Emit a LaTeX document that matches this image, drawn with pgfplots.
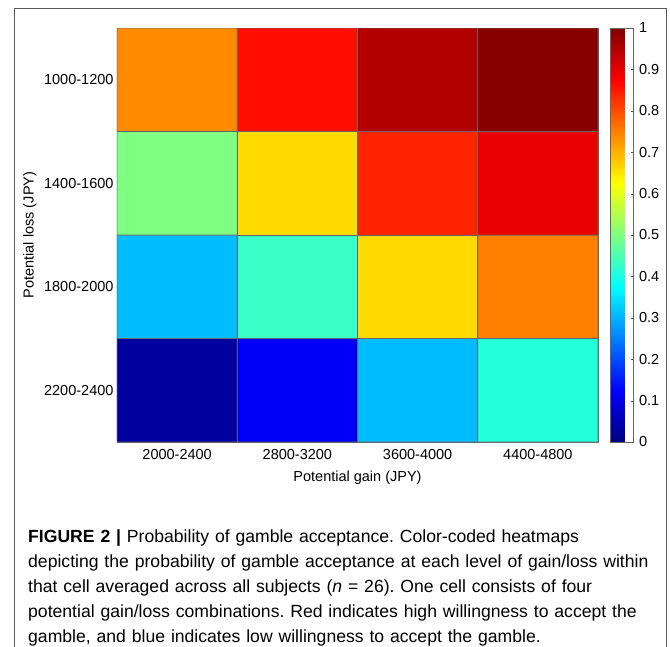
\documentclass[border=0pt]{standalone}
\usepackage{pgfplots}
\pgfplotsset{compat=1.18}
\usepackage{fontspec}
\setmainfont{Liberation Sans}
\begin{document}
\frenchspacing
\begin{tikzpicture}
\path[use as bounding box] (0pt,0pt) rectangle (670pt,-646pt);
\draw[black!65, line width=1pt] (14pt,-660pt) -- (14pt,-8pt) -- (666pt,-8pt) -- (666pt,-660pt);
\begin{axis}[
  at={(117pt,-442pt)}, anchor=south west,
  width=481pt, height=414pt, scale only axis,
  xmin=-0.5, xmax=3.5, ymin=-0.5, ymax=3.5,
  xtick={0,1,2,3}, xticklabels={2000-2400,2800-3200,3600-4000,4400-4800},
  ytick={0,1,2,3}, yticklabels={2200-2400,1800-2000,1400-1600,1000-1200},
  major tick length=0pt,
  axis line style={black!60},
  ticklabel style={font=\fontsize{14.5}{16}\selectfont},
  xticklabel style={yshift=-4pt},
  label style={font=\fontsize{14.5}{16}\selectfont},
  xlabel={Potential gain (JPY)}, ylabel={Potential loss (JPY)},
  xlabel style={at={(axis description cs:0.5,-0.087)}, anchor=center},
  ylabel style={at={(axis description cs:-0.181,0.5)}, anchor=center},
  colormap/jet,
  point meta min=0, point meta max=1,
  colorbar,
  colorbar style={
    at={(parent axis.north east)}, anchor=north west, xshift=4pt,
    width=23pt,
    ytick={0,0.1,0.2,0.3,0.4,0.5,0.6,0.7,0.8,0.9,1},
    yticklabel style={font=\fontsize{14.5}{16}\selectfont, /pgf/number format/assume math mode=true, /pgf/number format/fixed, xshift=2pt},
    ytick pos=right, yticklabel pos=right,
    major tick length=3pt,
    tick align=inside,
    tick style={black!70},
    axis line style={black!60},
  },
]
\addplot[matrix plot*, mesh/cols=4, point meta=explicit, shader=faceted, faceted color=black!60, line width=0.6pt] table[meta=c] {
x y c
0 0 0.03
1 0 0.12
2 0 0.31
3 0 0.41
0 1 0.31
1 1 0.43
2 1 0.66
3 1 0.75
0 2 0.50
1 2 0.66
2 2 0.84
3 2 0.895
0 3 0.74
1 3 0.86
2 3 0.95
3 3 0.99
};
\end{axis}
\node[anchor=north west, text width=645pt, align=left, inner sep=0pt, font=\fontsize{17.6}{25}\selectfont] at (28pt,-530pt) {\textbf{FIGURE 2 |} Probability of gamble acceptance. Color-coded heatmaps\\
depicting the probability of gamble acceptance at each level of gain/loss within\\
that cell averaged across all subjects (\textit{n} = 26). One cell consists of four\\
potential gain/loss combinations. Red indicates high willingness to accept the\\
gamble, and blue indicates low willingness to accept the gamble.};
\end{tikzpicture}
\end{document}
